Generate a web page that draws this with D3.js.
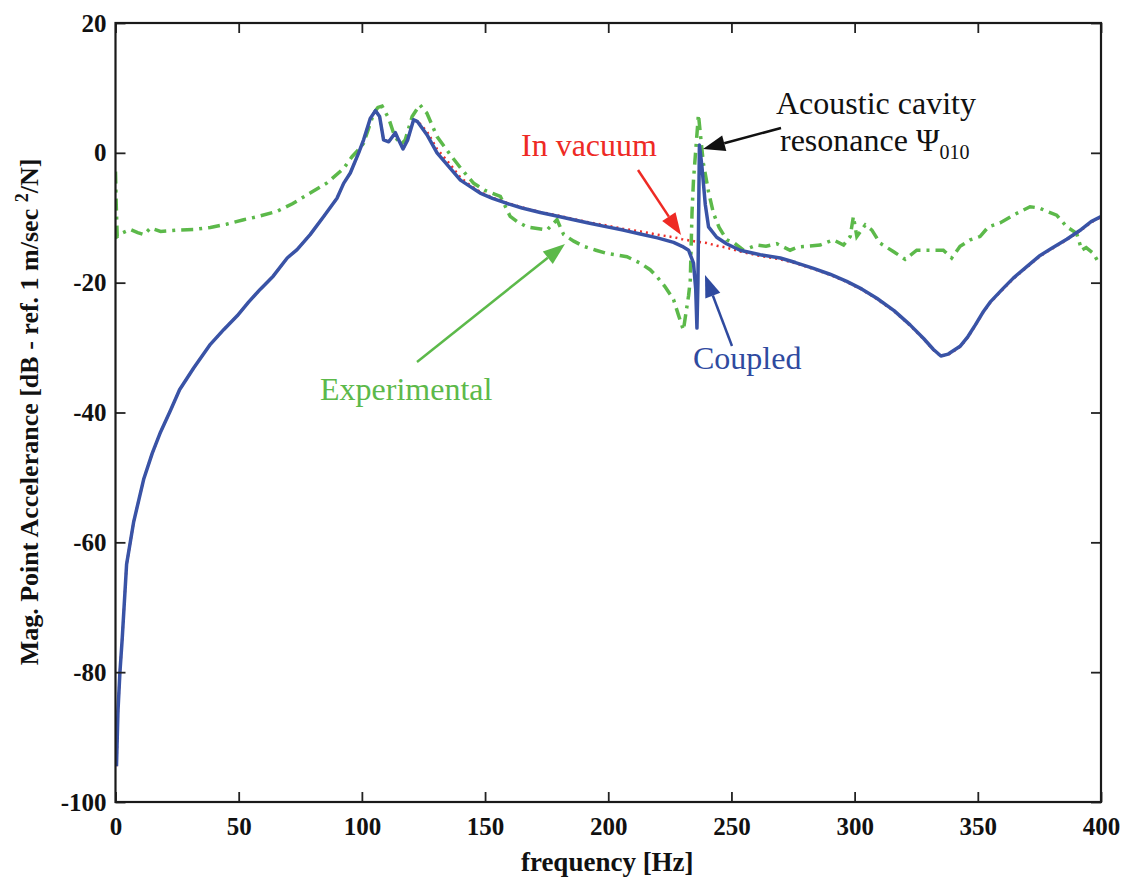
<!DOCTYPE html>
<html>
<head>
<meta charset="utf-8">
<script src="https://cdn.jsdelivr.net/npm/d3@7"></script>
<style>
  body { margin: 0; background: #fff; }
  svg { display: block; font-family: "Liberation Serif", "Times New Roman", serif; }
</style>
</head>
<body>
<div id="chart"></div>
<script>
// tick labels
const xTicks = [0, 50, 100, 150, 200, 250, 300, 350, 400];
const yTicks = [-100, -80, -60, -40, -20, 0, 20];

// coupled response (blue, solid)
const freqCoupled = [0.4, 1.0, 1.8, 2.7, 4.5, 7.4, 11.5, 14.9, 18.3, 22.3, 26, 31.8, 38.5, 44, 49.4, 54, 58.8, 64, 69.7, 73.7,
  79, 84.5, 89.9, 92.6, 95.3, 98.7, 100.7, 103.4, 105.5, 107.2, 108.8, 110.9, 113.6, 114.9, 116.7, 118.6, 121, 122.6, 126.4, 130.5,
  135.9, 140, 144, 148, 153, 158.9, 165, 172.4, 180, 185.9, 192, 199.5, 206, 213, 220, 226.5, 230, 232.6, 234.6, 235.5,
  236, 236.4, 237, 238, 239.4, 240.7, 244, 248, 253.5, 261.7, 269.8, 276, 283.3, 290, 296.8, 303, 309, 316, 322.5, 328,
  332, 335, 338, 342.8, 346, 349, 352, 355, 360, 364.4, 370, 375.3, 380, 386.1, 392, 396, 400];
const valCoupled = [-94.5, -86, -80, -75, -63.4, -56.8, -50.2, -46.3, -43, -39.7, -36.5, -33.1, -29.5, -27.2, -25.1, -23, -21, -19, -16.2, -14.9,
  -12.6, -9.8, -7, -4.7, -3.1, 0, 2.0, 5.3, 6.5, 5.6, 2.0, 1.7, 3.1, 2.0, 0.6, 2.0, 5.1, 4.8, 2.8, 0,
  -2.4, -4.2, -5.2, -6.2, -7.0, -7.8, -8.5, -9.2, -9.8, -10.3, -10.8, -11.4, -11.9, -12.5, -13.1, -13.8, -14.4, -15.0, -17.0, -21,
  -27, -20, 1.2, -2, -8, -11.4, -13.0, -14.0, -15.0, -15.7, -16.2, -16.9, -17.8, -18.7, -19.8, -21.0, -22.4, -24.3, -26.5, -28.6,
  -30.3, -31.3, -31.0, -29.8, -28.3, -26.5, -24.6, -23.0, -21.0, -19.3, -17.5, -15.8, -14.7, -13.3, -11.8, -10.6, -9.8];

// in vacuum response (red, dotted)
const freqVacuum = [0.4, 1.0, 1.8, 2.7, 4.5, 7.4, 11.5, 14.9, 18.3, 22.3, 26, 31.8, 38.5, 44, 49.4, 54, 58.8, 64, 69.7, 73.7,
  79, 84.5, 89.9, 92.6, 95.3, 98.7, 100.7, 103.4, 105.5, 107.2, 108.8, 110.9, 113.6, 114.9, 116.7, 118.6, 121, 122.6, 126.4, 130.5,
  135.9, 140, 144, 148, 153, 158.9, 165, 172.4, 180, 185.9, 192, 199.5, 206, 213, 220, 226.5, 230, 233, 236, 240,
  244, 248, 253.5, 261.7, 269.8, 276, 283.3, 290, 296.8, 303, 309, 316, 322.5, 328, 332, 335, 338, 342.8, 346, 349,
  352, 355, 360, 364.4, 370, 375.3, 380, 386.1, 392, 396, 400];
const valVacuum = [-94.5, -86, -80, -75, -63.4, -56.8, -50.2, -46.3, -43, -39.7, -36.5, -33.1, -29.5, -27.2, -25.1, -23, -21, -19, -16.2, -14.9,
  -12.6, -9.8, -7, -4.7, -3.1, 0, 2.0, 5.3, 6.5, 5.6, 2.0, 1.7, 3.1, 2.0, 0.6, 2.0, 5.1, 4.9, 3.3, 0.6,
  -1.8, -3.8, -5.0, -6.0, -6.9, -7.7, -8.4, -9.1, -9.7, -10.2, -10.7, -11.2, -11.7, -12.1, -12.6, -13.0, -13.3, -13.5, -13.7, -13.9,
  -14.3, -14.6, -15.2, -15.9, -16.4, -17.0, -17.9, -18.8, -19.9, -21.1, -22.5, -24.4, -26.6, -28.7, -30.4, -31.3, -31.1, -29.9, -28.4, -26.6,
  -24.7, -23.1, -21.1, -19.4, -17.6, -15.9, -14.8, -13.4, -11.9, -10.7, -9.9];

// experimental response (green, dash-dot)
const freqExp = [0, 0.3, 0.7, 3, 6, 9, 11.5, 14.2, 18.3, 25, 32, 38.5, 45, 52, 58, 65.6, 72, 79, 86, 92.6,
  96, 98.7, 100.7, 102.5, 104.8, 106.5, 108.2, 110.9, 112.9, 115.6, 117.6, 120.4, 123.5, 126.4, 130.5, 135.9, 140, 145.4, 150, 156.2,
  160.2, 163, 167, 175.1, 179.2, 181.9, 186, 190, 195, 199.5, 207.6, 213, 217, 219.8, 223, 226.5, 228.5, 230.5, 232.6, 233.3,
  234, 234.6, 236.6, 238.6, 240.7, 242.7, 245, 248.1, 250.8, 254.9, 260.3, 264, 268.4, 273.8, 277, 280.6, 286, 291.4, 295.5, 298.2,
  299.5, 300.9, 304.3, 307, 310.3, 315.7, 320.5, 325.2, 330.6, 336, 339.4, 342.8, 346.9, 350.9, 354.3, 359, 364.4, 371.2, 375, 378,
  382, 386.1, 390.1, 392.2, 394, 396.9, 399.6];
const valExp = [-2.9, -8, -12.9, -12.3, -11.8, -12.3, -12.6, -11.6, -12.1, -11.9, -11.8, -11.5, -11.0, -10.3, -9.8, -9.0, -7.8, -6.2, -4.6, -2.4,
  -0.6, 0.5, 1.5, 3.5, 6.1, 7.0, 7.2, 5.3, 3.0, 1.2, 2.0, 5.6, 7.4, 6.1, 2.5, -0.3, -2.3, -4.7, -5.8, -6.7,
  -9.8, -10.6, -11.4, -11.9, -10.3, -12.6, -13.6, -14.4, -15.0, -15.5, -16.0, -17.0, -18.0, -19.1, -20.6, -22.6, -25, -27.3, -22, -19.6,
  -9.2, -4.2, 5.9, -1.6, -6, -9.3, -11.5, -13.4, -13.8, -15.0, -14.2, -14.4, -14.0, -15.0, -14.5, -14.4, -14.2, -13.4, -14.2, -12.9,
  -9.8, -12.9, -11.1, -11.9, -13.9, -15.2, -16.4, -15.0, -15.0, -15.0, -16.2, -14.4, -13.4, -12.9, -11.4, -10.8, -9.6, -8.3, -8.5, -9.0,
  -9.6, -11.4, -12.4, -15.0, -14.6, -15.5, -17.3];

const width = 1125, height = 877;
const plotLeft = 115.5, plotRight = 1101, plotTop = 23, plotBottom = 802;

const svg = d3.select("#chart").append("svg")
  .attr("width", width)
  .attr("height", height);

const x = d3.scaleLinear().domain([0, 400]).range([plotLeft, plotRight]);
const y = d3.scaleLinear().domain([-100, 20]).range([plotBottom, plotTop]);

svg.append("clipPath").attr("id", "plot-clip")
  .append("rect")
  .attr("x", plotLeft).attr("y", plotTop)
  .attr("width", plotRight - plotLeft).attr("height", plotBottom - plotTop);

const line = d3.line()
  .x(d => x(d[0]))
  .y(d => y(d[1]));

const zip = (fs, vs) => fs.map((f, i) => [f, vs[i]]);

const plot = svg.append("g").attr("clip-path", "url(#plot-clip)");

plot.append("path")
  .datum(zip(freqExp, valExp))
  .attr("d", line)
  .attr("fill", "none")
  .attr("stroke", "#5cb94a")
  .attr("stroke-width", 3.5)
  .attr("stroke-dasharray", "12,6,3,6");

plot.append("path")
  .datum(zip(freqVacuum, valVacuum))
  .attr("d", line)
  .attr("fill", "none")
  .attr("stroke", "#ee2f2a")
  .attr("stroke-width", 2.5)
  .attr("stroke-dasharray", "2,4");

plot.append("path")
  .datum(zip(freqCoupled, valCoupled))
  .attr("d", line)
  .attr("fill", "none")
  .attr("stroke", "#3953a6")
  .attr("stroke-width", 3.5)
  .attr("stroke-linejoin", "round");

// axes with inward ticks
const fmt = d => String(d);
const tickFont = g => g.selectAll("text")
  .attr("font-family", "'Liberation Serif', 'Times New Roman', serif")
  .attr("font-weight", "bold")
  .attr("font-size", "25px")
  .attr("fill", "#111");
const tickLines = g => {
  g.select(".domain").remove();
  g.selectAll(".tick line").attr("stroke", "#222").attr("stroke-width", 1.8);
};

svg.append("g")
  .attr("transform", `translate(0,${plotBottom})`)
  .call(d3.axisBottom(x).tickValues(xTicks).tickFormat(fmt).tickSizeInner(-10).tickSizeOuter(0).tickPadding(15))
  .call(tickLines).call(tickFont);

svg.append("g")
  .attr("transform", `translate(${plotLeft},0)`)
  .call(d3.axisLeft(y).tickValues(yTicks).tickFormat(fmt).tickSizeInner(-10).tickSizeOuter(0).tickPadding(9))
  .call(tickLines).call(tickFont);

svg.append("g")
  .attr("transform", `translate(0,${plotTop})`)
  .call(d3.axisTop(x).tickValues(xTicks).tickFormat("").tickSizeInner(-10).tickSizeOuter(0))
  .call(tickLines);

svg.append("g")
  .attr("transform", `translate(${plotRight},0)`)
  .call(d3.axisRight(y).tickValues(yTicks).tickFormat("").tickSizeInner(-10).tickSizeOuter(0))
  .call(tickLines);

svg.append("rect")
  .attr("x", plotLeft).attr("y", plotTop)
  .attr("width", plotRight - plotLeft).attr("height", plotBottom - plotTop)
  .attr("fill", "none")
  .attr("stroke", "#1a1a1a")
  .attr("stroke-width", 2.2);

// axis titles
svg.append("text")
  .attr("x", (plotLeft + plotRight) / 2 - 1)
  .attr("y", 871)
  .attr("text-anchor", "middle")
  .attr("font-weight", "bold")
  .attr("font-size", "27px")
  .attr("fill", "#111")
  .text("frequency [Hz]");

const yLabel = svg.append("text")
  .attr("transform", "translate(38,412) rotate(-90)")
  .attr("text-anchor", "middle")
  .attr("font-weight", "bold")
  .attr("font-size", "26px")
  .attr("fill", "#111");
yLabel.append("tspan").text("Mag. Point Accelerance [dB - ref. 1 m/sec ");
yLabel.append("tspan").attr("dy", -10).attr("font-size", "18px").text("2");
yLabel.append("tspan").attr("dy", 10).text("/N]");

// annotations
function arrow(x1, y1, x2, y2, color) {
  const ang = Math.atan2(y2 - y1, x2 - x1);
  const len = 22, half = 8;
  const bx = x2 - len * Math.cos(ang), by = y2 - len * Math.sin(ang);
  svg.append("line")
    .attr("x1", x1).attr("y1", y1).attr("x2", bx).attr("y2", by)
    .attr("stroke", color).attr("stroke-width", 2.5);
  const pts = [
    [x2, y2],
    [bx + half * Math.sin(ang), by - half * Math.cos(ang)],
    [bx - half * Math.sin(ang), by + half * Math.cos(ang)]
  ];
  svg.append("polygon")
    .attr("points", pts.map(p => p.join(",")).join(" "))
    .attr("fill", color);
}

const note = (tx, ty, color, txt) => svg.append("text")
  .attr("x", tx).attr("y", ty)
  .attr("font-size", "32px")
  .attr("fill", color)
  .text(txt);

note(776, 114, "#111", "Acoustic cavity");
const res = note(780, 151, "#111", "resonance ");
res.append("tspan").text("\u03A8");
res.append("tspan").attr("dy", 8).attr("font-size", "20px").text("010");
arrow(781, 128, 703, 149, "#111");

note(521, 156, "#ee2a24", "In vacuum");
arrow(638, 170, 681, 235, "#ee2a24");

note(693, 369, "#2f4a9f", "Coupled");
arrow(732, 346, 705, 275, "#2f4a9f");

note(320, 400, "#5cb94a", "Experimental");
arrow(417, 362, 565, 244, "#5cb94a");
</script>
</body>
</html>
